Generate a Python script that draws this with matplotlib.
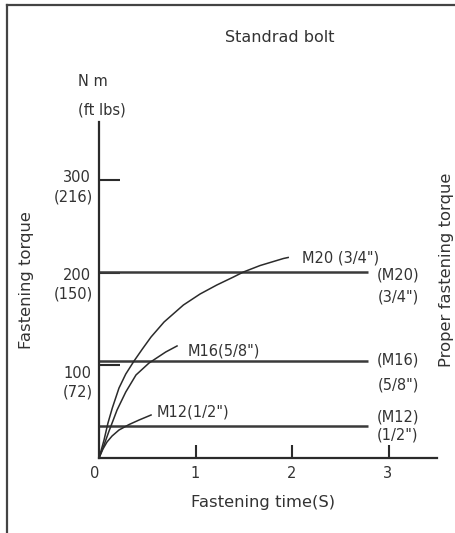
import matplotlib
matplotlib.use("Agg")
import matplotlib.pyplot as plt
from matplotlib.lines import Line2D

# ── Data ────────────────────────────────────────────────
bolts = ["M12", "M16", "M20"]
bolt_inch = ['1/2"', '5/8"', '3/4"']
proper_torque = [35, 105, 201]          # N·m, horizontal "proper" lines
proper_end = 2.79                       # s, where the horizontal lines stop

m12_time = [0, 0.041, 0.083, 0.135, 0.207, 0.311, 0.415, 0.539]
m12_torque = [0, 9.7, 17.3, 23.7, 30.2, 36.1, 41.0, 46.4]

m16_time = [0, 0.052, 0.104, 0.187, 0.277, 0.383, 0.518, 0.691, 0.808]
m16_torque = [0, 14.0, 29.1, 51.8, 71.2, 89.6, 102.5, 114.4, 120.9]

m20_time = [0, 0.052, 0.093, 0.138, 0.207, 0.277, 0.363, 0.449, 0.539,
            0.674, 0.874, 1.047, 1.22, 1.392, 1.495, 1.668, 1.91, 1.959]
m20_torque = [0, 19.4, 37.8, 54.0, 75.5, 90.6, 104.7, 117.6, 130.6,
              146.8, 165.1, 177.0, 186.7, 195.3, 200.7, 207.7, 215.3, 216.4]

y_ticks = [100, 200, 300]
y_tick_ftlbs = ["(72)", "(150)", "(216)"]
x_ticks = [1, 2, 3]

# ── Figure ──────────────────────────────────────────────
W, H = 456, 533
plt.rcParams["font.family"] = ["DejaVu Sans"]
fig = plt.figure(figsize=(W / 100, H / 100), dpi=100)
fig.patch.set_facecolor("white")

ink = "#2b2b2b"
txt = "#333333"
fs = 10.5        # numbers / bolt labels
fs_title = 11.8  # axis titles

# axes placed so the origin sits at pixel (99, 458)
ax = fig.add_axes([99 / W, 1 - 458 / H, 338 / W, 336 / H])
ax.set_xlim(0, 3.5)
ax.set_ylim(0, 362.6)
for s in ["top", "right"]:
    ax.spines[s].set_visible(False)
for s in ["left", "bottom"]:
    ax.spines[s].set_linewidth(1.6)
    ax.spines[s].set_color(ink)

ax.set_xticks(x_ticks)
ax.set_yticks(y_ticks)
ax.tick_params(axis="x", direction="in", length=9.5, width=1.5, color=ink,
               labelbottom=False)
ax.tick_params(axis="y", direction="in", length=15, width=1.5, color=ink,
               labelleft=False)

# proper fastening torque lines
for v in proper_torque:
    ax.plot([0, proper_end], [v, v], color="#3a3a3a", lw=1.8,
            solid_capstyle="butt")

# fastening curves
for t, v in [(m12_time, m12_torque), (m16_time, m16_torque),
             (m20_time, m20_torque)]:
    ax.plot(t, v, color=ink, lw=1.1, solid_joinstyle="round")

# ── Text (pixel positions converted to figure fractions) ─
def ftext(x, y, s, **kw):
    kw.setdefault("fontsize", fs)
    kw.setdefault("color", txt)
    fig.text(x / W, 1 - y / H, s, **kw)

ftext(280, 38, "Standrad bolt", ha="center", va="center", fontsize=11.5)
ftext(78, 82, "N m", ha="left", va="center")
ftext(78, 110, "(ft lbs)", ha="left", va="center")

# y tick labels (two lines each)
for yv, ft, ypx in zip(y_ticks, y_tick_ftlbs, [373, 275, 178]):
    ftext(91, ypx, str(yv), ha="right", va="center")
    ftext(93, ypx + 19, ft, ha="right", va="center")

# x tick labels
for lab, xpx in zip(["0"] + [str(x) for x in x_ticks], [95, 195, 292, 388]):
    ftext(xpx, 473, lab, ha="center", va="center")

ftext(263, 503, "Fastening time(S)", ha="center", va="center",
      fontsize=fs_title)
ftext(27, 280, "Fastening torque", ha="center", va="center", rotation=90,
      fontsize=fs_title)
ftext(447, 270, "Proper fastening torque", ha="center", va="center",
      rotation=90, fontsize=fs_title)

# curve labels
curve_lab_pos = [(157, 412), (188, 351), (302, 258)]
for b, inch, (xp, yp) in zip(bolts, bolt_inch, curve_lab_pos):
    sep = " " if b == "M20" else ""
    ftext(xp, yp, f"{b}{sep}({inch})", ha="left", va="center")

# right-hand labels
right_lab_pos = [(417, 435), (360, 385), (275, 297)]
for b, inch, (y1, y2) in zip(bolts, bolt_inch, right_lab_pos):
    ftext(398, y1, f"({b})", ha="center", va="center")
    ftext(398, y2, f"({inch})", ha="center", va="center")

# outer frame (left and top edges visible)
fig.add_artist(Line2D([7 / W, 7 / W], [0, 1 - 5 / H], color="#444444",
                      lw=1.6, transform=fig.transFigure))
fig.add_artist(Line2D([7 / W, 1], [1 - 5 / H, 1 - 5 / H], color="#444444",
                      lw=1.6, transform=fig.transFigure))

fig.savefig("out.png", dpi=100, facecolor="white")
